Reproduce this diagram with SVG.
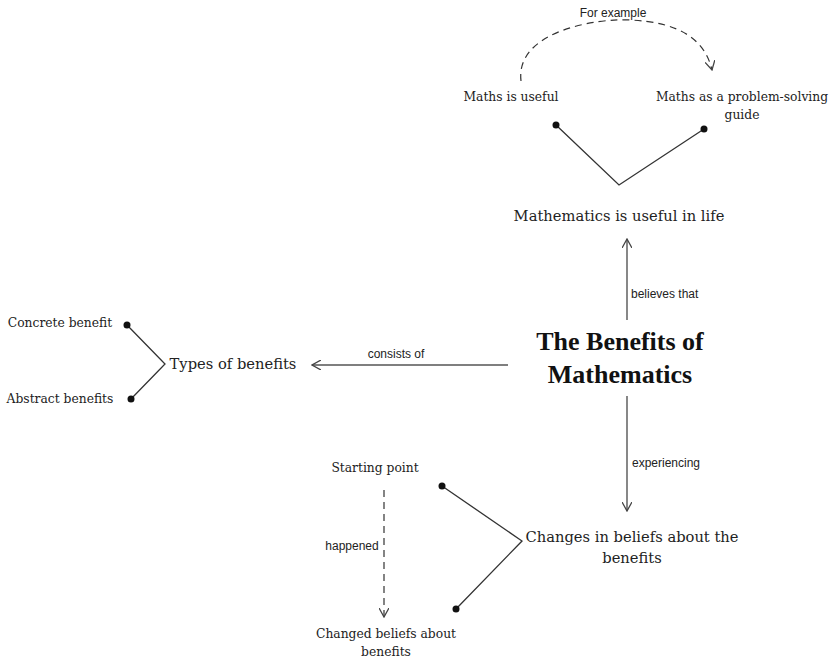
<svg xmlns="http://www.w3.org/2000/svg" width="831" height="659" viewBox="0 0 831 659">
  <style>
    .node { font-family: "DejaVu Serif", "Liberation Serif", serif; font-size: 14.7px; fill: #222; }
    .big { font-family: "Liberation Serif", "DejaVu Serif", serif; font-size: 26px; font-weight: bold; fill: #111; }
    .small { font-family: "DejaVu Serif", "Liberation Serif", serif; font-size: 12.3px; fill: #222; }
    .lbl { font-family: "Comic Sans MS", "Liberation Sans", sans-serif; font-size: 12px; fill: #222; }
    .arrow { stroke: #555; stroke-width: 1.4; fill: none; }
    .dash { stroke: #333; stroke-width: 1.2; fill: none; stroke-dasharray: 7 5; }
    .brace { stroke: #333; stroke-width: 1.3; fill: none; }
    .dot { fill: #111; }
  </style>
  <defs>
    <marker id="open" viewBox="0 0 10 10" refX="9" refY="5" markerWidth="10" markerHeight="10" markerUnits="userSpaceOnUse" orient="auto">
      <path d="M0,0 L9,5 L0,10" fill="none" stroke="#444" stroke-width="1.3"/>
    </marker>
  </defs>

  <rect width="831" height="659" fill="#fff"/>

  <!-- connectors -->
  <g id="connectors">
    <!-- For example: dashed curve -->
    <path class="dash" d="M521,81 C515,30 600,18 630,20 C680,22 705,40 712,70" marker-end="url(#open)"/>
    <text class="lbl" x="613" y="17" text-anchor="middle">For example</text>

    <!-- believes that -->
    <line class="arrow" x1="627" y1="320" x2="627" y2="239" marker-end="url(#open)"/>
    <text class="lbl" x="631" y="298">believes that</text>

    <!-- consists of -->
    <line class="arrow" x1="508" y1="365" x2="312" y2="365" marker-end="url(#open)"/>
    <text class="lbl" x="396" y="358" text-anchor="middle">consists of</text>

    <!-- experiencing -->
    <line class="arrow" x1="627" y1="396" x2="627" y2="511" marker-end="url(#open)"/>
    <text class="lbl" x="632" y="467">experiencing</text>

    <!-- happened -->
    <line class="dash" x1="384" y1="490" x2="384" y2="617" marker-end="url(#open)"/>
    <text class="lbl" x="352" y="550" text-anchor="middle">happened</text>

    <!-- brackets -->
    <polyline class="brace" points="556,125 619,185 704,129"/>
    <circle class="dot" cx="556" cy="125" r="3.5"/>
    <circle class="dot" cx="704" cy="129" r="3.5"/>

    <polyline class="brace" points="127,325 165,364 131,399"/>
    <circle class="dot" cx="127" cy="325" r="3.5"/>
    <circle class="dot" cx="131" cy="399" r="3.5"/>

    <polyline class="brace" points="442,486 522,541 456,609"/>
    <circle class="dot" cx="442" cy="486" r="3.5"/>
    <circle class="dot" cx="456" cy="609" r="3.5"/>
  </g>

  <!-- nodes -->
  <g id="main">
    <text class="big" x="620" y="350" text-anchor="middle">The Benefits of</text>
    <text class="big" x="620" y="383" text-anchor="middle">Mathematics</text>
  </g>
  <g id="useful-in-life">
    <text class="node" x="619" y="221" text-anchor="middle">Mathematics is useful in life</text>
  </g>
  <g id="maths-useful">
    <text class="small" x="511" y="101" text-anchor="middle">Maths is useful</text>
  </g>
  <g id="problem-solving">
    <text class="small" x="742" y="101" text-anchor="middle">Maths as a problem-solving</text>
    <text class="small" x="742" y="119" text-anchor="middle">guide</text>
  </g>
  <g id="types">
    <text class="node" x="233" y="369" text-anchor="middle">Types of benefits</text>
  </g>
  <g id="concrete">
    <text class="small" x="60" y="327" text-anchor="middle">Concrete benefit</text>
  </g>
  <g id="abstract">
    <text class="small" x="60" y="403" text-anchor="middle">Abstract benefits</text>
  </g>
  <g id="changes">
    <text class="node" x="632" y="542" text-anchor="middle">Changes in beliefs about the</text>
    <text class="node" x="632" y="563" text-anchor="middle">benefits</text>
  </g>
  <g id="starting">
    <text class="small" x="375" y="472" text-anchor="middle">Starting point</text>
  </g>
  <g id="changed">
    <text class="small" x="386" y="638" text-anchor="middle">Changed beliefs about</text>
    <text class="small" x="386" y="656" text-anchor="middle">benefits</text>
  </g>
</svg>
